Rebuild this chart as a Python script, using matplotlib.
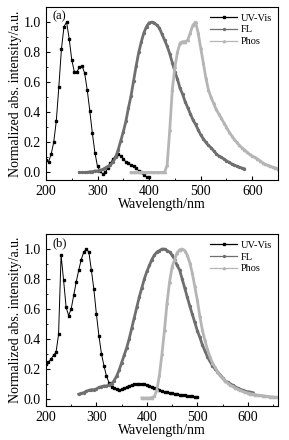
import numpy as np
import matplotlib
matplotlib.use("Agg")
import matplotlib.pyplot as plt
from matplotlib.ticker import MultipleLocator

plt.rcParams['font.family'] = ['Liberation Serif', 'DejaVu Serif']
plt.rcParams['font.size'] = 10

# ---- panel (a) ----
uv_a_x = np.arange(200, 401, 5)
uv_a_y = [0.08, 0.07, 0.12, 0.20, 0.34, 0.57, 0.82, 0.97, 1.00, 0.89,
          0.75, 0.67, 0.67, 0.70, 0.71, 0.66, 0.55, 0.41, 0.26, 0.13,
          0.04, 0.01, -0.01, 0.00, 0.03, 0.06, 0.09, 0.11, 0.12, 0.11,
          0.09, 0.07, 0.06, 0.05, 0.04, 0.03, 0.01, 0.00, -0.02, -0.03, -0.03]

fl_a_x = np.arange(265, 586, 5)
fl_a_y = [0.0, 0.0, 0.0, 0.0, 0.005, 0.005, 0.01, 0.01, 0.015, 0.02,
          0.03, 0.04, 0.05, 0.07, 0.10, 0.15, 0.21, 0.27, 0.34, 0.43,
          0.51, 0.61, 0.71, 0.80, 0.87, 0.93, 0.97, 0.995, 1.0, 0.995,
          0.98, 0.96, 0.92, 0.88, 0.84, 0.79, 0.73, 0.67, 0.62, 0.56,
          0.52, 0.47, 0.43, 0.39, 0.35, 0.32, 0.285, 0.25, 0.225, 0.20,
          0.18, 0.165, 0.145, 0.125, 0.11, 0.10, 0.09, 0.078, 0.067, 0.057,
          0.049, 0.042, 0.035, 0.029, 0.024]

ph_a_x = np.arange(365, 651, 5)
ph_a_y = [0.0, 0.0, 0.0, 0.0, 0.0, 0.0, 0.0, 0.0, 0.0, 0.0,
          0.0, 0.0, 0.0, 0.0, 0.05, 0.28, 0.55, 0.70, 0.80, 0.86,
          0.87, 0.87, 0.88, 0.93, 0.98, 1.0, 0.93, 0.83, 0.73, 0.63,
          0.55, 0.50, 0.46, 0.42, 0.39, 0.36, 0.33, 0.30, 0.27, 0.245,
          0.22, 0.20, 0.18, 0.165, 0.15, 0.135, 0.12, 0.11, 0.10, 0.09,
          0.078, 0.065, 0.055, 0.048, 0.041, 0.035, 0.030, 0.025]

# ---- panel (b) ----
uv_b_x = np.arange(200, 501, 5)
uv_b_y = [0.23, 0.245, 0.265, 0.29, 0.31, 0.43, 0.96, 0.79, 0.61, 0.555,
          0.60, 0.69, 0.78, 0.86, 0.93, 0.98, 1.0, 0.98, 0.86, 0.73,
          0.565, 0.42, 0.30, 0.22, 0.15, 0.107, 0.08, 0.068, 0.062, 0.058,
          0.062, 0.068, 0.078, 0.086, 0.092, 0.096, 0.099, 0.10, 0.098, 0.095,
          0.09, 0.082, 0.075, 0.068, 0.062, 0.056, 0.051, 0.047, 0.043, 0.039,
          0.036, 0.033, 0.030, 0.027, 0.025, 0.022, 0.020, 0.018, 0.016, 0.014,
          0.012]

fl_b_x = np.arange(265, 611, 5)
fl_b_y = [0.03, 0.035, 0.04, 0.05, 0.055, 0.06, 0.06, 0.065, 0.075, 0.08,
          0.085, 0.085, 0.09, 0.10, 0.12, 0.15, 0.19, 0.24, 0.29, 0.34,
          0.40, 0.47, 0.54, 0.61, 0.68, 0.74, 0.80, 0.85, 0.89, 0.93,
          0.96, 0.98, 0.99, 1.0, 1.0, 0.99, 0.98, 0.96, 0.93, 0.89,
          0.86, 0.80, 0.74, 0.68, 0.62, 0.565, 0.51, 0.455, 0.41, 0.36,
          0.32, 0.28, 0.25, 0.22, 0.20, 0.18, 0.16, 0.14, 0.12, 0.11,
          0.10, 0.09, 0.08, 0.07, 0.062, 0.056, 0.05, 0.046, 0.044, 0.04]

ph_b_x = np.arange(390, 661, 5)
ph_b_y = [0.005, 0.005, 0.005, 0.005, 0.007, 0.015, 0.06, 0.16, 0.30, 0.46,
          0.64, 0.78, 0.88, 0.93, 0.975, 0.995, 1.0, 0.99, 0.96, 0.91,
          0.84, 0.75, 0.66, 0.55, 0.46, 0.39, 0.33, 0.28, 0.24, 0.21,
          0.18, 0.155, 0.135, 0.12, 0.105, 0.092, 0.082, 0.072, 0.064, 0.056,
          0.049, 0.043, 0.038, 0.034, 0.030, 0.027, 0.024, 0.022, 0.020, 0.017,
          0.015, 0.013, 0.012, 0.010, 0.010]

fl_col = '#6f6f6f'
ph_col = '#b5b5b5'


def draw_panel(ax, uv, fl, ph, xmax, tag):
    ax.plot(uv[0], uv[1], color='black', lw=0.7, marker='s', ms=1.7,
            label='UV-Vis')
    ax.plot(fl[0], fl[1], color=fl_col, lw=2.0, marker='o', ms=1.4,
            label='FL')
    ax.plot(ph[0], ph[1], color=ph_col, lw=2.0, marker='^', ms=1.6,
            label='Phos')
    ax.set_xlim(200, xmax)
    ax.set_ylim(-0.05, 1.1)
    ax.xaxis.set_major_locator(MultipleLocator(100))
    ax.xaxis.set_minor_locator(MultipleLocator(50))
    ax.yaxis.set_major_locator(MultipleLocator(0.2))
    ax.yaxis.set_minor_locator(MultipleLocator(0.1))
    ax.tick_params(which='both', direction='in', labelsize=10)
    ax.tick_params(which='major', length=3)
    ax.tick_params(which='minor', length=1.5)
    ax.set_xlabel('Wavelength/nm', fontsize=10, labelpad=0)
    ax.set_ylabel('Normalized abs. intensity/a.u.', fontsize=10, labelpad=1)
    ax.text(0.03, 0.93, tag, transform=ax.transAxes, fontsize=9)
    leg = ax.legend(loc='upper right', frameon=False, fontsize=7.5,
                    handlelength=2.6, handletextpad=0.3, labelspacing=0.25,
                    borderaxespad=0.2)
    for line in leg.get_lines():
        line.set_linewidth(0.9)


fig = plt.figure(figsize=(2.89, 4.40), dpi=100)
ax1 = fig.add_axes([0.159, 0.591, 0.803, 0.393])
ax2 = fig.add_axes([0.159, 0.077, 0.803, 0.391])

draw_panel(ax1, (uv_a_x, uv_a_y), (fl_a_x, fl_a_y), (ph_a_x, ph_a_y), 650, '(a)')
draw_panel(ax2, (uv_b_x, uv_b_y), (fl_b_x, fl_b_y), (ph_b_x, ph_b_y), 660, '(b)')

fig.savefig('out.png', dpi=100)
